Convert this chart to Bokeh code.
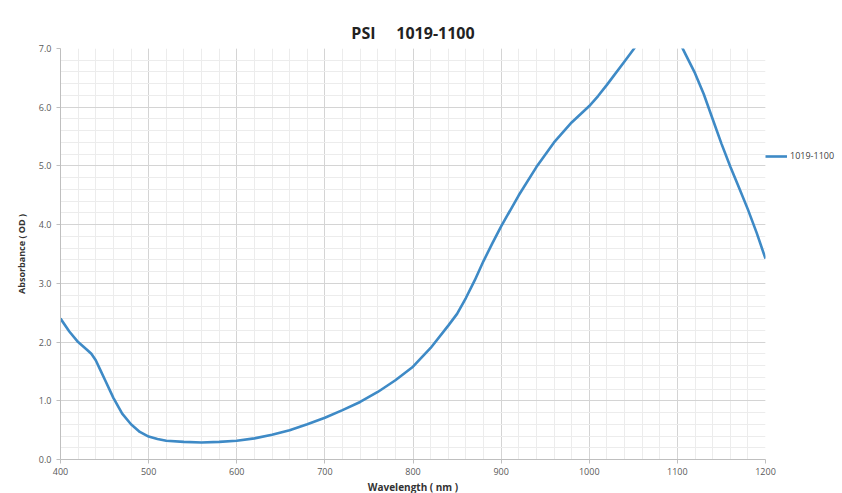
from bokeh.plotting import figure
from bokeh.models import FixedTicker, NumeralTickFormatter, Legend, LegendItem, Range1d
from bokeh.embed import file_html
from bokeh.resources import INLINE

wavelength = [400, 410, 420, 430, 435, 440, 445, 450, 460, 470, 480, 490, 500, 510, 520, 540,
              560, 580, 600, 620, 640, 660, 680, 700, 720, 740, 760, 780, 800, 820, 840, 850,
              860, 870, 880, 890, 900, 920, 940, 960, 980, 990, 1000, 1010, 1020, 1040, 1052,
              1060, 1070, 1080, 1090, 1100, 1110, 1120, 1130, 1140, 1150, 1160, 1170, 1180,
              1190, 1200]
absorbance = [2.40, 2.18, 2.00, 1.87, 1.80, 1.69, 1.53, 1.37, 1.05, 0.78, 0.60, 0.47, 0.39, 0.35,
              0.32, 0.30, 0.29, 0.30, 0.32, 0.36, 0.42, 0.50, 0.60, 0.71, 0.84, 0.98, 1.15, 1.35,
              1.58, 1.90, 2.28, 2.48, 2.75, 3.05, 3.38, 3.68, 3.97, 4.50, 4.98, 5.40, 5.74, 5.88,
              6.02, 6.19, 6.38, 6.78, 7.02, 7.18, 7.33, 7.40, 7.36, 7.18, 6.88, 6.58, 6.22, 5.80,
              5.38, 4.99, 4.63, 4.26, 3.86, 3.42]

x_ticks = [400, 500, 600, 700, 800, 900, 1000, 1100, 1200]
y_ticks = [0, 1, 2, 3, 4, 5, 6, 7]
series_name = "1019-1100"

FONT = "Open Sans"
TXT = "#595959"

p = figure(frame_width=705, frame_height=411, output_backend="svg", toolbar_location=None,
           x_range=Range1d(400, 1200), y_range=Range1d(0, 7),
           title="PSI\u00a0\u00a0\u00a0\u00a0\u00a01019-1100",
           min_border_left=60, min_border_top=48, min_border_bottom=34, min_border_right=70)
p.outline_line_color = None
p.background_fill_color = "white"

p.title.align = "center"
p.title.text_font = FONT
p.title.text_font_size = "16px"
p.title.text_font_style = "bold"
p.title.text_color = "#222222"

r = p.line(wavelength, absorbance, line_color="#3E8AC6", line_width=2.6, line_join="round")

p.xaxis.ticker = FixedTicker(ticks=x_ticks, minor_ticks=list(range(400, 1201, 20)))
p.yaxis.ticker = FixedTicker(ticks=y_ticks, minor_ticks=[i * 0.2 for i in range(36)])
p.yaxis.formatter = NumeralTickFormatter(format="0.0")

for ax in (p.xaxis, p.yaxis):
    ax.major_label_text_font = FONT
    ax.major_label_text_font_size = "9px"
    ax.major_label_text_color = TXT
    ax.axis_label_text_font = FONT
    ax.axis_label_text_font_style = "bold"
    ax.axis_label_text_color = "#333333"
    ax.axis_line_color = "#bfbfbf"
    ax.major_tick_line_color = "#bfbfbf"
    ax.major_tick_out = 4
    ax.major_tick_in = 0
    ax.minor_tick_line_color = None

p.xaxis.axis_label = "Wavelength ( nm )"
p.xaxis.axis_label_text_font_size = "10px"
p.xaxis.axis_label_standoff = 2
p.xaxis.major_label_standoff = 4
p.yaxis.axis_label = "Absorbance ( OD )"
p.yaxis.axis_label_text_font_size = "9px"
p.yaxis.axis_label_standoff = 8

p.xgrid.grid_line_color = "#d4d4d4"
p.ygrid.grid_line_color = "#d4d4d4"
p.xgrid.minor_grid_line_color = "#ececec"
p.ygrid.minor_grid_line_color = "#ececec"

legend = Legend(items=[LegendItem(label=series_name, renderers=[r])],
                location="top_left", orientation="vertical",
                title="\u00a0", title_text_font_size="1px", title_standoff=100,
                margin=0, padding=7, spacing=0, label_standoff=3,
                glyph_width=22, glyph_height=12,
                label_text_font=FONT, label_text_font_size="9px", label_text_color="#404040",
                border_line_color=None, background_fill_alpha=0)
p.add_layout(legend, "right")

open("out.html", "w").write(file_html(p, INLINE))
